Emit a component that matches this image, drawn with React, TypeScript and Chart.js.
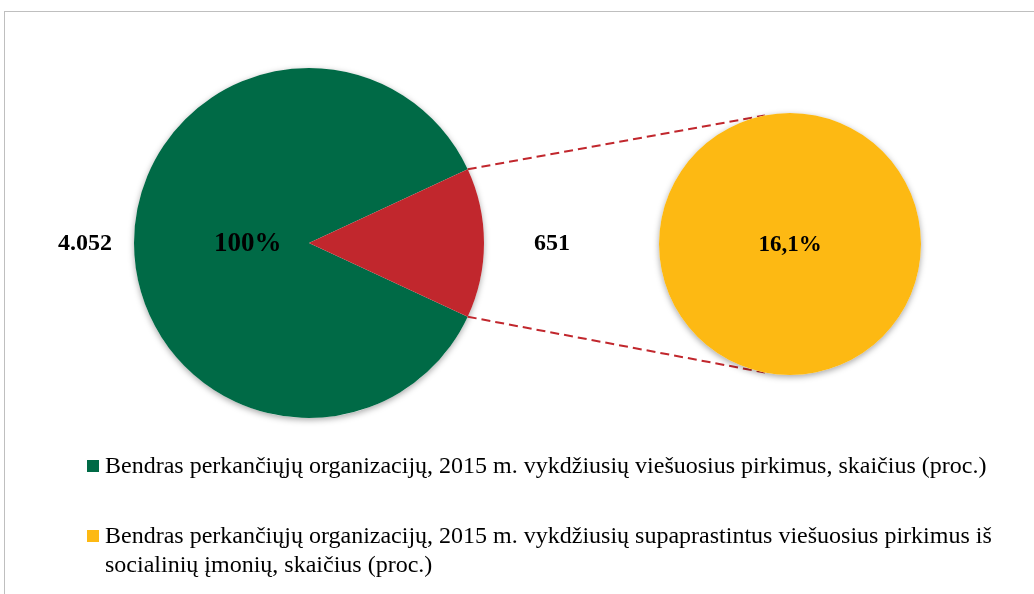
import React, { useEffect, useRef } from "react";
import { Chart, registerables } from "chart.js";
Chart.register(...registerables);

// ---- data ----
const mainCategories = ["Kitos perkančiosios organizacijos", "Pirkusios iš socialinių įmonių"];
const mainValues = [4052, 651];
const mainColors = ["#006A46", "#C1272D"];
const mainValueLabels = ["4.052", "651"];
const mainPercentLabels = ["100%", ""];

const secondaryCategories = ["Pirkusios iš socialinių įmonių"];
const secondaryValues = [651];
const secondaryColors = ["#FDB913"];
const secondaryPercentLabels = ["16,1%"];

const legendLabels = [
  "Bendras perkančiųjų organizacijų, 2015 m. vykdžiusių viešuosius pirkimus, skaičius (proc.)",
  "Bendras perkančiųjų organizacijų, 2015 m. vykdžiusių supaprastintus viešuosius pirkimus iš socialinių įmonių, skaičius (proc.)",
];
const legendColors = ["#006A46", "#FDB913"];

const FONT = '"Liberation Serif", "Times New Roman", serif';
const W = 1034;
const H = 594;

function shadowPlugin(id: string) {
  return {
    id,
    beforeDatasetsDraw(chart: any) {
      const arc: any = chart.getDatasetMeta(0).data[0];
      if (!arc) return;
      const { x, y, outerRadius } = arc.getProps(["x", "y", "outerRadius"], true);
      const ctx = chart.ctx;
      ctx.save();
      ctx.shadowColor = "rgba(0,0,0,0.35)";
      ctx.shadowBlur = 6;
      ctx.shadowOffsetX = 0;
      ctx.shadowOffsetY = 2;
      ctx.fillStyle = "#ffffff";
      ctx.beginPath();
      ctx.arc(x, y, outerRadius, 0, Math.PI * 2);
      ctx.fill();
      ctx.restore();
    },
  };
}

export default function App() {
  const leftRef = useRef<HTMLCanvasElement>(null);
  const rightRef = useRef<HTMLCanvasElement>(null);

  useEffect(() => {
    const total = mainValues.reduce((a, b) => a + b, 0);
    const greenSpan = (mainValues[0] / total) * 360;
    const redSpan = (mainValues[1] / total) * 360;
    const rotation = 90 - greenSpan - redSpan / 2;

    const outsideOffsets = [49, 68];

    const leftLabels = {
      id: "leftLabels",
      afterDatasetsDraw(chart: any) {
        const ctx = chart.ctx;
        const arcs: any[] = chart.getDatasetMeta(0).data;
        ctx.save();
        ctx.fillStyle = "#000";
        ctx.textAlign = "center";
        ctx.textBaseline = "middle";
        arcs.forEach((arc, i) => {
          const { x, y, startAngle, endAngle, outerRadius } = arc.getProps(
            ["x", "y", "startAngle", "endAngle", "outerRadius"],
            true
          );
          const mid = (startAngle + endAngle) / 2;
          const ro = outerRadius + outsideOffsets[i];
          ctx.font = `bold 24px ${FONT}`;
          ctx.fillText(mainValueLabels[i], x + ro * Math.cos(mid), y + ro * Math.sin(mid) + 1);
          if (mainPercentLabels[i]) {
            const ri = outerRadius * 0.35;
            ctx.font = `bold 27px ${FONT}`;
            ctx.fillText(mainPercentLabels[i], x + ri * Math.cos(mid), y + ri * Math.sin(mid) + 1);
          }
        });
        ctx.restore();
      },
    };

    const left = new Chart(leftRef.current!, {
      type: "pie",
      data: {
        labels: mainCategories,
        datasets: [
          {
            data: mainValues,
            backgroundColor: mainColors,
            borderWidth: 0,
          },
        ],
      },
      options: {
        responsive: false,
        animation: false,
        devicePixelRatio: 1,
        rotation,
        layout: { padding: { left: 134, right: W - 484, top: 68, bottom: H - 418 } },
        plugins: { legend: { display: false }, tooltip: { enabled: false } },
        events: [],
      },
      plugins: [shadowPlugin("leftShadow"), leftLabels],
    });

    const connector = {
      id: "connector",
      beforeDatasetsDraw(chart: any) {
        const lArcs: any[] = left.getDatasetMeta(0).data;
        const red = lArcs[1];
        const r2: any = chart.getDatasetMeta(0).data[0];
        if (!red || !r2) return;
        const a = red.getProps(["x", "y", "startAngle", "endAngle", "outerRadius"], true);
        const b = r2.getProps(["x", "y", "outerRadius"], true);
        const ang = (101 * Math.PI) / 180;
        const ctx = chart.ctx;
        ctx.save();
        ctx.strokeStyle = "#C1272D";
        ctx.lineWidth = 2;
        ctx.setLineDash([9, 5]);
        ctx.beginPath();
        ctx.moveTo(a.x + a.outerRadius * Math.cos(a.startAngle), a.y + a.outerRadius * Math.sin(a.startAngle));
        ctx.lineTo(b.x + b.outerRadius * Math.cos(-ang), b.y + b.outerRadius * Math.sin(-ang));
        ctx.moveTo(a.x + a.outerRadius * Math.cos(a.endAngle), a.y + a.outerRadius * Math.sin(a.endAngle));
        ctx.lineTo(b.x + b.outerRadius * Math.cos(ang), b.y + b.outerRadius * Math.sin(ang));
        ctx.stroke();
        ctx.restore();
      },
    };

    const rightLabels = {
      id: "rightLabels",
      afterDatasetsDraw(chart: any) {
        const ctx = chart.ctx;
        const arc: any = chart.getDatasetMeta(0).data[0];
        const { x, y } = arc.getProps(["x", "y"], true);
        ctx.save();
        ctx.fillStyle = "#000";
        ctx.textAlign = "center";
        ctx.textBaseline = "middle";
        ctx.font = `bold 23px ${FONT}`;
        ctx.fillText(secondaryPercentLabels[0], x, y + 1);
        ctx.restore();
      },
    };

    const right = new Chart(rightRef.current!, {
      type: "pie",
      data: {
        labels: secondaryCategories,
        datasets: [
          {
            data: secondaryValues,
            backgroundColor: secondaryColors,
            borderWidth: 0,
          },
        ],
      },
      options: {
        responsive: false,
        animation: false,
        devicePixelRatio: 1,
        layout: { padding: { left: 659, right: W - 921, top: 113, bottom: H - 375 } },
        plugins: { legend: { display: false }, tooltip: { enabled: false } },
        events: [],
      },
      plugins: [connector, shadowPlugin("rightShadow"), rightLabels],
    });

    return () => {
      right.destroy();
      left.destroy();
    };
  }, []);

  return (
    <div
      style={{
        position: "fixed",
        left: 0,
        top: 0,
        width: W,
        height: H,
        background: "#fff",
        overflow: "hidden",
      }}
    >
      <div
        style={{
          position: "absolute",
          left: 4,
          top: 11,
          width: 1100,
          height: 700,
          border: "1px solid #BFBFBF",
          boxSizing: "border-box",
        }}
      />
      <canvas ref={leftRef} width={W} height={H} style={{ position: "absolute", left: 0, top: 0 }} />
      <canvas ref={rightRef} width={W} height={H} style={{ position: "absolute", left: 0, top: 0 }} />
      <div
        style={{
          position: "absolute",
          left: 87,
          top: 451,
          width: 925,
          fontFamily: FONT,
          fontSize: 24,
          lineHeight: "29px",
          color: "#000",
        }}
      >
        {legendLabels.map((label, i) => (
          <div key={i} style={{ display: "flex", alignItems: "flex-start", marginBottom: 41 }}>
            <span
              style={{
                display: "inline-block",
                width: 12,
                height: 12,
                background: legendColors[i],
                marginTop: 9,
                marginRight: 6,
                flex: "0 0 auto",
              }}
            />
            <span>{label}</span>
          </div>
        ))}
      </div>
    </div>
  );
}
